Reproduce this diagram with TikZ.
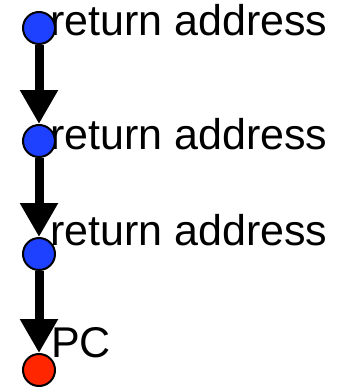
\documentclass[tikz,border=0pt]{standalone}
\usepackage{fontspec}
\setmainfont{Liberation Sans}
\usetikzlibrary{arrows.meta}
\definecolor{frameblue}{RGB}{30,64,255}
\definecolor{pcred}{RGB}{255,38,0}
\begin{document}
\begin{tikzpicture}[x=1pt,y=-1pt,
  frame/.style={circle,draw=black,line width=2pt,fill=frameblue,minimum size=32pt,inner sep=0pt},
  pcdot/.style={frame,fill=pcred},
  label/.style={anchor=base west,inner sep=0pt,font=\fontsize{43}{49}\selectfont},
  link/.style={line width=9pt,-{Triangle[length=34pt,width=36pt]}}]
\useasboundingbox (0,0) rectangle (346,388);
% stack labels
\node[label] (t1) at (50,35) {return address};
\node[label] (t2) at (50,149) {return address};
\node[label] (t3) at (50,245) {return address};
\node[label] (t4) at (51,357) {PC};
% frames of the chain
\node[frame] (c1) at (39,28) {};
\node[frame] (c2) at (39,141) {};
\node[frame] (c3) at (39,254) {};
\node[pcdot] (c4) at (39,370) {};
% links between frames
\draw[link] (c1.south) -- (c2.north);
\draw[link] (c2.south) -- (c3.north);
\draw[link] (c3.south) -- (c4.north);
\end{tikzpicture}
\end{document}
